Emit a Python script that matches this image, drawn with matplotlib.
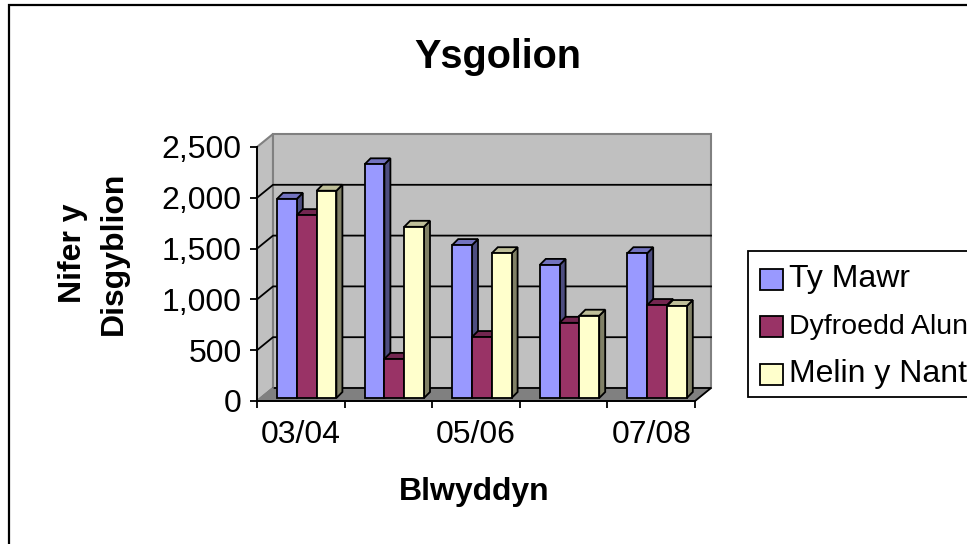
import matplotlib
matplotlib.use('Agg')
import matplotlib.pyplot as plt
from matplotlib.patches import Polygon, Rectangle

plt.rcParams['font.family'] = ['Liberation Sans', 'DejaVu Sans']

# data
years = ['03/04', '04/05', '05/06', '06/07', '07/08']
year_labels = ['03/04', '', '05/06', '', '07/08']
y_ticks = [0, 500, 1000, 1500, 2000, 2500]
ty_mawr = [1960, 2300, 1505, 1310, 1425]
dyfroedd_alun = [1800, 385, 600, 740, 915]
melin_y_nant = [2040, 1685, 1425, 810, 905]

series_names = ['Ty Mawr', 'Dyfroedd Alun', 'Melin y Nant']
series_values = [ty_mawr, dyfroedd_alun, melin_y_nant]
legend_sizes = [23, 20.5, 23]
front_colors = ['#9999FF', '#993366', '#FFFFCC']
top_colors = ['#7373BF', '#732650', '#BFBF99']
side_colors = ['#4D4D80', '#4D1A33', '#808066']

W, H = 967, 544
# front plane of the 3d box, in pixels
left_px, right_px = 257, 695
base_px, top_px = 401, 147
wall_dx, wall_dy = 16, 13
bar_dx, bar_dy = 6, 6
floor_dx, floor_dy = 3, 3
bar_w = 19.8
group_start = 20

fig = plt.figure(figsize=(W / 100, H / 100), dpi=100)
fig.patch.set_facecolor('white')
ax = fig.add_axes([left_px / W, 1 - base_px / H, (right_px - left_px) / W, (base_px - top_px) / H])
ax.set_xlim(0, len(years))
ax.set_ylim(0, y_ticks[-1])
ax.patch.set_visible(False)
for side in ['top', 'right']:
    ax.spines[side].set_visible(False)
for side in ['left', 'bottom']:
    ax.spines[side].set_linewidth(1.4)

# pixel to data factors, depth is set in pixels
px_x = len(years) / (right_px - left_px)
px_y = y_ticks[-1] / (base_px - top_px)
wx, wy = wall_dx * px_x, wall_dy * px_y
n = len(years)
ymax = y_ticks[-1]

# walls and floor
ax.add_patch(Polygon([(0, 0), (wx, wy), (wx, ymax + wy), (0, ymax)], fc='#C0C0C0', ec='#808080', lw=1.5, zorder=1, clip_on=False))
ax.add_patch(Polygon([(wx, wy), (n + wx, wy), (n + wx, ymax + wy), (wx, ymax + wy)], fc='#C0C0C0', ec='#808080', lw=1.5, zorder=1, clip_on=False))
ax.add_patch(Polygon([(0, 0), (n, 0), (n + wx, wy), (wx, wy)], fc='#808080', ec='#808080', lw=1, zorder=1, clip_on=False))
ax.plot([n, n + wx, wx], [0, wy, wy], color='black', lw=1.3, zorder=1.5, clip_on=False)

# gridlines on back and side wall
for t in y_ticks[1:-1]:
    ax.plot([0, wx, n + wx], [t, t + wy, t + wy], color='black', lw=1.3, zorder=1.5, clip_on=False)
ax.plot([0, wx], [0, wy], color='#808080', lw=1.3, zorder=1.5)

# bars
fx, fy = floor_dx * px_x, floor_dy * px_y
bx, by = bar_dx * px_x, bar_dy * px_y
w = bar_w * px_x
z = 2
for i in range(n):
    for s, vals in enumerate(series_values):
        v = vals[i]
        x0 = i + group_start * px_x + s * w
        x1 = x0 + w
        ax.add_patch(Polygon([(x1, fy), (x1 + bx, fy + by), (x1 + bx, fy + v + by), (x1, fy + v)],
                             fc=side_colors[s], ec='black', lw=1.3, zorder=z, clip_on=False))
        ax.add_patch(Polygon([(x0, fy + v), (x0 + bx, fy + v + by), (x1 + bx, fy + v + by), (x1, fy + v)],
                             fc=top_colors[s], ec='black', lw=1.3, zorder=z, clip_on=False))
        ax.bar(x0, v, width=w, bottom=fy, align='edge', color=front_colors[s], edgecolor='black', lw=1.3, zorder=z + 0.1)
        z += 0.2

ax.set_xticks(range(n + 1))
ax.set_xticklabels([])
ax.set_yticks(y_ticks)
ax.set_yticklabels([f'{t:,}' for t in y_ticks], fontsize=23)
ax.tick_params(axis='y', direction='out', length=5, width=1.3, pad=6)
ax.tick_params(axis='x', direction='out', length=5, width=1.3)
for i, lab in enumerate(year_labels):
    ax.text(i + 0.5, -34 * px_y, lab, ha='center', va='center', fontsize=23, color='black')

ax.set_zorder(2)

# outer frame
fig.add_artist(Rectangle((8.5 / W, -0.05), 1.05, 1 - 5 / H + 0.05, transform=fig.transFigure, fc='none', ec='black', lw=1.6))

fig.text(498 / W, 1 - 57 / H, 'Ysgolion', ha='center', va='center', fontsize=28.5, fontweight='bold')
fig.text(474 / W, 1 - 492 / H, 'Blwyddyn', ha='center', va='center', fontsize=23, fontweight='bold')
fig.text(73 / W, 1 - 253 / H, 'Nifer y', ha='center', va='center', rotation=90, fontsize=23, fontweight='bold')
fig.text(114 / W, 1 - 253 / H, 'Disgyblion', ha='center', va='center', rotation=90, fontsize=23, fontweight='bold')

# legend
fig.add_artist(Rectangle((748 / W, 1 - 397 / H), 230 / W, 146 / H, transform=fig.transFigure, fc='white', ec='black', lw=1.3))
for k, name in enumerate(series_names):
    yc = 1 - (279 + k * 47.5) / H
    fig.add_artist(Rectangle((760 / W, yc - 10.5 / H), 23 / W, 21 / H, transform=fig.transFigure, fc=front_colors[k], ec='black', lw=1.3))
    fig.text(789 / W, yc, name, ha='left', va='center', fontsize=legend_sizes[k])

fig.savefig('out.png', dpi=100)
